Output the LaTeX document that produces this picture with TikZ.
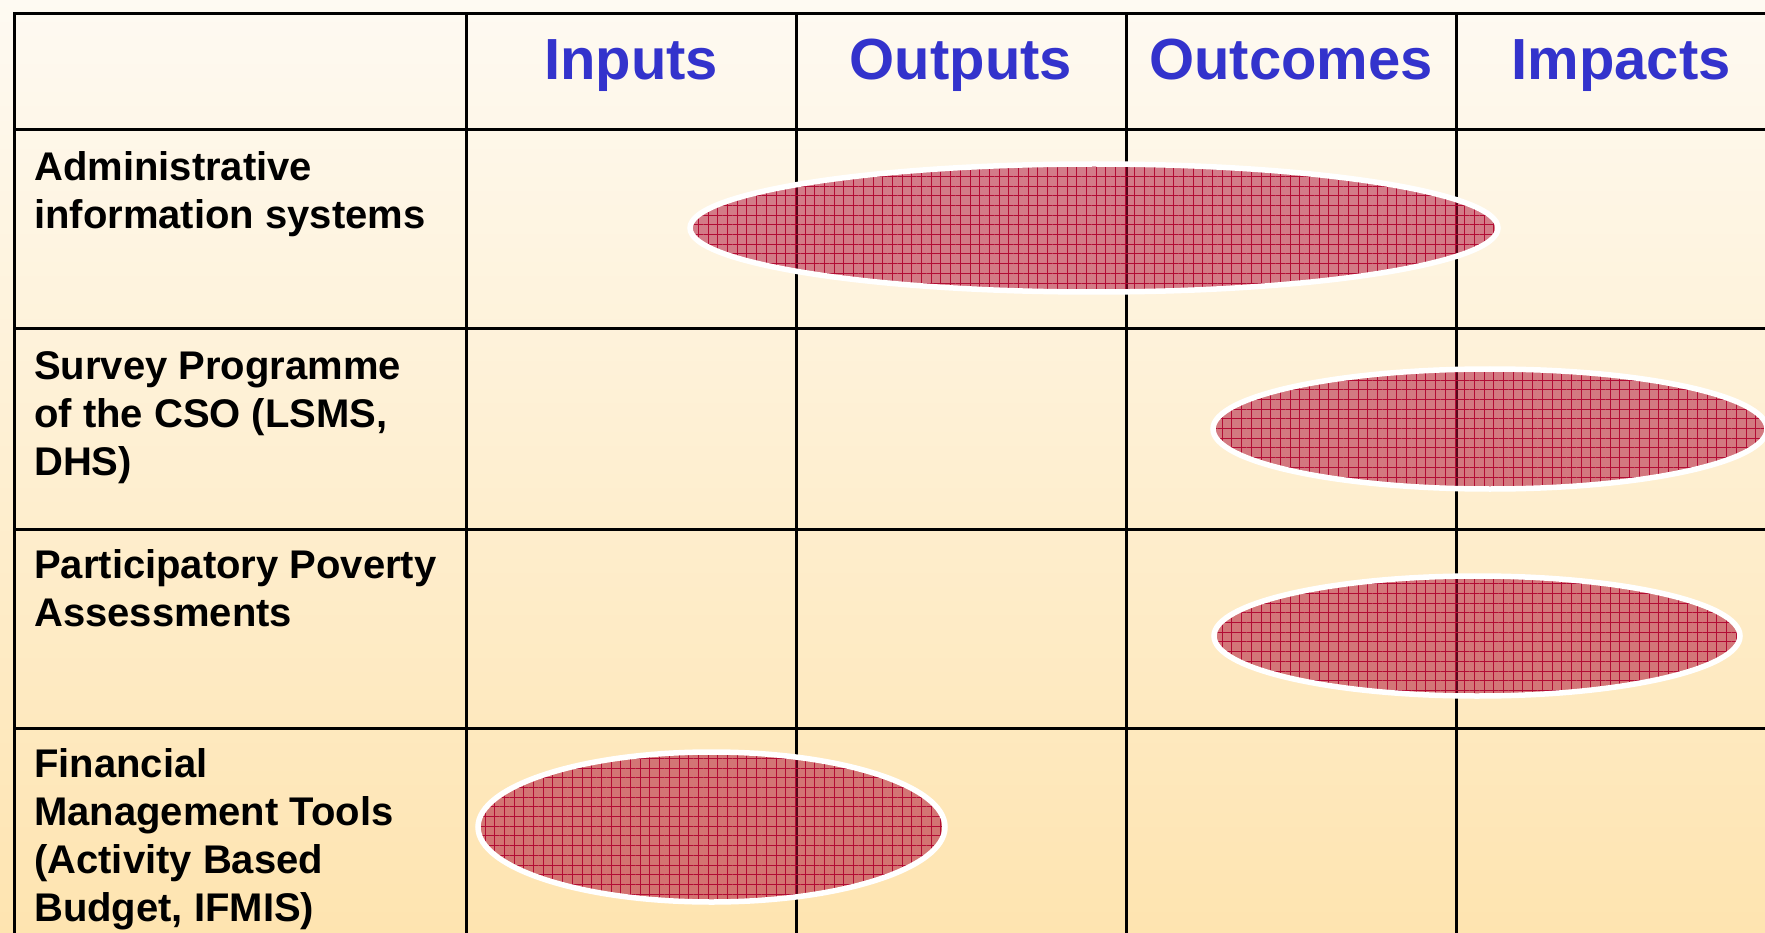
\documentclass[tikz,border=0pt]{standalone}
\usepackage{fontspec}
\setmainfont{Liberation Sans}
\usetikzlibrary{shapes.geometric,patterns.meta}
\definecolor{bgtop}{RGB}{254,250,242}
\definecolor{bgbot}{RGB}{254,228,176}
\definecolor{headblue}{RGB}{51,51,204}
\definecolor{ellbase}{RGB}{172,12,52}
\definecolor{gridred}{RGB}{178,12,52}
\tikzset{
  rule/.style={line width=3pt, black},
  head/.style={anchor=base, inner sep=0pt, text=headblue, font=\fontsize{58}{70}\selectfont\bfseries},
  lab/.style={anchor=north west, inner sep=0pt, align=left, text=black,
    font=\fontsize{40}{48}\selectfont\bfseries},
  blob/.style={ellipse, inner sep=0pt, draw=white, line width=5.5pt,
    preaction={fill=ellbase, fill opacity=0.52},
    pattern={Hatch[angle=0,distance=9.7pt,line width=1pt]}, pattern color=gridred},
}
\begin{document}
\begin{tikzpicture}[x=1pt,y=-1pt]
\useasboundingbox (0,0) rectangle (1765,933);
\shade[top color=bgtop, bottom color=bgbot] (0,0) rectangle (1765,933);
\begin{scope}
\clip (0,0) rectangle (1765,933);
% table rules
\draw[rule] (14,945) -- (14,13.5) -- (1780,13.5);
\foreach \yy in {130,329,529,728} \draw[rule] (14,\yy) -- (1780,\yy);
\foreach \xx in {466,796,1126,1456} \draw[rule] (\xx,13.5) -- (\xx,945);
% headers
\node[head] (hin) at (631,80) {Inputs};
\node[head] (hout) at (961,80) {Outputs};
\node[head] (hoc) at (1291,80) {Outcomes};
\node[head] (him) at (1621,80) {Impacts};
% row labels
\node[lab] (r1) at (34,150) {\rule{0pt}{30pt}Administrative\\information systems};
\node[lab] (r2) at (34,349) {\rule{0pt}{30pt}Survey Programme\\of the CSO (LSMS,\\DHS)};
\node[lab] (r3) at (34,548) {\rule{0pt}{30pt}Participatory Poverty\\Assessments};
\node[lab] (r4) at (34,747) {\rule{0pt}{30pt}Financial\\Management Tools\\(Activity Based\\Budget, IFMIS)};
% ellipses
\node[blob, minimum width=808pt, minimum height=128pt] (e1) at (1094,228) {};
\node[blob, minimum width=554pt, minimum height=120pt] (e2) at (1490,429) {};
\node[blob, minimum width=526pt, minimum height=120pt] (e3) at (1477,636) {};
\node[blob, minimum width=467pt, minimum height=150pt] (e4) at (711.5,827) {};
\end{scope}
\end{tikzpicture}
\end{document}
